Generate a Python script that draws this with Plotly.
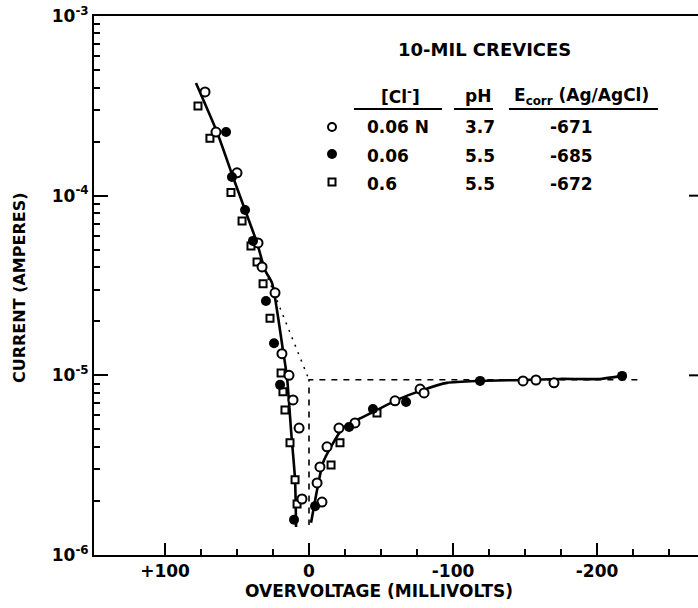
import plotly.graph_objects as go

# Overvoltage in millivolts (positive = cathodic, drawn on the left), current in amperes.
# Series 1: [Cl-] 0.06 N, pH 3.7 (open circles)
open_mv = [72.2, 64.6, 50.0, 35.4, 32.6, 23.6, 18.8, 13.9, 11.1, 6.9, 4.9,
           -5.6, -7.6, -9.0, -12.5, -20.8, -31.9, -59.7, -77.1, -79.9,
           -148.6, -157.6, -170.1]
open_amp = [3.78e-4, 2.26e-4, 1.34e-4, 5.46e-5, 4.01e-5, 2.88e-5, 1.32e-5, 1.00e-5,
            7.30e-6, 5.09e-6, 2.05e-6,
            2.52e-6, 3.09e-6, 1.97e-6, 4.00e-6, 5.09e-6, 5.43e-6, 7.21e-6, 8.39e-6,
            7.98e-6, 9.31e-6, 9.42e-6, 9.08e-6]

# Series 2: [Cl-] 0.06, pH 5.5 (filled circles)
filled_mv = [57.6, 53.5, 44.4, 38.9, 29.9, 24.3, 20.1, 10.4,
             -4.2, -27.8, -44.4, -67.4, -118.8, -217.4]
filled_amp = [2.26e-4, 1.27e-4, 8.32e-5, 5.60e-5, 2.59e-5, 1.51e-5, 8.85e-6, 1.57e-6,
              1.87e-6, 5.16e-6, 6.50e-6, 7.11e-6, 9.31e-6, 9.93e-6]

# Series 3: [Cl-] 0.6, pH 5.5 (open squares)
square_mv = [77.1, 68.8, 54.2, 46.5, 40.3, 36.1, 31.9, 27.1, 19.4, 18.1, 16.7,
             13.2, 9.7, 8.3, -15.3, -21.5, -47.2]
square_amp = [3.16e-4, 2.09e-4, 1.04e-4, 7.23e-5, 5.25e-5, 4.28e-5, 3.23e-5, 2.08e-5,
              1.03e-5, 8.09e-6, 6.41e-6, 4.21e-6, 2.62e-6, 1.92e-6,
              3.17e-6, 4.21e-6, 6.18e-6]

# Faired curves through the data
cath_curve_mv = [78.5, 63.9, 52.8, 44.4, 36.1, 30.6, 25.7, 21.5, 18.1, 15.3, 12.5, 9.7, 9.0]
cath_curve_amp = [4.24e-4, 2.26e-4, 1.27e-4, 8.32e-5, 5.46e-5, 3.86e-5, 3.27e-5, 2.11e-5,
                  1.38e-5, 9.8e-6, 4.97e-6, 2.62e-6, 1.43e-6]
anod_curve_mv = [-1.4, -5.6, -9.7, -16.0, -23.6, -33.3, -44.4, -61.1, -79.2, -95.8,
                 -118.8, -148.6, -174.3, -202.0, -217.4]
anod_curve_amp = [1.51e-6, 2.30e-6, 3.26e-6, 4.10e-6, 5.09e-6, 5.65e-6, 6.25e-6, 7.30e-6,
                  8.30e-6, 9.08e-6, 9.31e-6, 9.42e-6, 9.55e-6, 9.55e-6, 9.93e-6]

# Construction lines: Tafel extrapolation and corrosion current
tafel_ext_mv = [28.5, 0.0]
tafel_ext_amp = [3.48e-5, 9.45e-6]
icorr_mv = [-228.0, 0.0, 0.0]
icorr_amp = [9.45e-6, 9.45e-6, 1.47e-6]

# Axis ticks
x_major = [100, 0, -100, -200]
x_major_text = ["+100", "0", "-100", "-200"]
x_minor = [75, 50, 25, -25, -50, -75, -125, -150, -175, -225, -250]
y_major = [1e-6, 1e-5, 1e-4, 1e-3]
y_major_text = ["10<sup>-6</sup>", "10<sup>-5</sup>", "10<sup>-4</sup>", "10<sup>-3</sup>"]
y_minor = [m * d for d in (1e-6, 1e-5, 1e-4) for m in range(2, 10)]

# Legend table
table_cl = ["0.06 N", "0.06", "0.6"]
table_ph = ["3.7", "5.5", "5.5"]
table_ecorr = ["-671", "-685", "-672"]

FONT = "DejaVu Sans"
W, H = 698, 608
ML, MR, MT, MB = 94, 0, 16, 53


def px(xp):
    return (xp - ML) / (W - ML - MR)


def py(yp):
    return (H - MB - yp) / (H - MT - MB)


fig = go.Figure()

fig.add_trace(go.Scatter(x=tafel_ext_mv, y=tafel_ext_amp, mode="lines",
                         line=dict(color="black", width=1.5, dash="2px,6px")))
fig.add_trace(go.Scatter(x=icorr_mv, y=icorr_amp, mode="lines",
                         line=dict(color="black", width=1.6, dash="6px,6px")))
fig.add_trace(go.Scatter(x=cath_curve_mv, y=cath_curve_amp, mode="lines",
                         line=dict(color="black", width=2.6, shape="spline", smoothing=0.6)))
fig.add_trace(go.Scatter(x=anod_curve_mv, y=anod_curve_amp, mode="lines",
                         line=dict(color="black", width=2.6, shape="spline", smoothing=0.6)))

fig.add_trace(go.Scatter(x=square_mv, y=square_amp, mode="markers",
                         marker=dict(symbol="square", size=7, color="white",
                                     line=dict(color="black", width=2))))
fig.add_trace(go.Scatter(x=open_mv, y=open_amp, mode="markers",
                         marker=dict(symbol="circle", size=9, color="white",
                                     line=dict(color="black", width=2))))
fig.add_trace(go.Scatter(x=filled_mv, y=filled_amp, mode="markers",
                         marker=dict(symbol="circle", size=10, color="black",
                                     line=dict(color="black", width=0))))

# Legend symbols on an overlay axis spanning the plot area
leg_y = [py(127), py(154), py(182)]
fig.add_trace(go.Scatter(x=[px(332)], y=[leg_y[0]], mode="markers", xaxis="x2", yaxis="y2",
                         marker=dict(symbol="circle", size=8, color="white",
                                     line=dict(color="black", width=2))))
fig.add_trace(go.Scatter(x=[px(332)], y=[leg_y[1]], mode="markers", xaxis="x2", yaxis="y2",
                         marker=dict(symbol="circle", size=10, color="black")))
fig.add_trace(go.Scatter(x=[px(332)], y=[leg_y[2]], mode="markers", xaxis="x2", yaxis="y2",
                         marker=dict(symbol="square", size=7, color="white",
                                     line=dict(color="black", width=2))))

bold = dict(family=FONT, size=17, color="black", weight="bold")
annotations = []


def text(x, y, s, size=17, xanchor="center", angle=0):
    annotations.append(dict(x=x, y=y, xref="paper", yref="paper", text=s, showarrow=False,
                            xanchor=xanchor, yanchor="middle", textangle=angle,
                            font=dict(bold, size=size)))


text(px(484), py(50), "10-MIL CREVICES", size=18)
text(px(400), py(96), "[Cl<sup>-</sup>]", size=17)
text(px(478), py(96), "pH", size=17)
text(px(581), py(96), "E<sub>corr</sub> (Ag/AgCl)", size=17)
row_y = [py(127), py(156), py(184)]
for i in range(3):
    text(px(365), row_y[i], table_cl[i], xanchor="left")
    text(px(463), row_y[i], table_ph[i], xanchor="left")
    text(px(548), row_y[i], table_ecorr[i], xanchor="left")

text(px(379), py(591), "OVERVOLTAGE (MILLIVOLTS)", size=17)
text(px(19), py(288), "CURRENT (AMPERES)", size=16, angle=-90)

shapes = []
for x0, x1 in ((354, 442), (454, 493), (509, 658)):
    shapes.append(dict(type="line", xref="paper", yref="paper", x0=px(x0), x1=px(x1),
                       y0=py(109), y1=py(109), line=dict(color="black", width=2)))
for yv in (2 / 3, 1 / 3):
    shapes.append(dict(type="line", xref="paper", yref="paper", x0=px(689), x1=1.0,
                       y0=yv, y1=yv, line=dict(color="black", width=2)))

fig.update_layout(
    width=W, height=H,
    margin=dict(l=ML, r=MR, t=MT, b=MB, pad=0),
    paper_bgcolor="white", plot_bgcolor="white",
    showlegend=False,
    font=bold,
    annotations=annotations,
    shapes=shapes,
    xaxis=dict(range=[149.3, -270.1], showgrid=False, zeroline=False,
               showline=True, linecolor="black", linewidth=2, mirror=True,
               ticks="inside", ticklen=12, tickwidth=1.5, tickcolor="black",
               tickvals=x_major, ticktext=x_major_text,
               tickfont=dict(bold, size=17),
               minor=dict(tickvals=x_minor, ticks="inside", ticklen=6, tickwidth=1.5,
                          tickcolor="black", showgrid=False)),
    yaxis=dict(type="log", range=[-6, -3], showgrid=False, zeroline=False,
               showline=True, linecolor="black", linewidth=2,
               ticks="inside", ticklen=14, tickwidth=1.5, tickcolor="black",
               tickvals=y_major, ticktext=y_major_text,
               tickfont=dict(bold, size=17),
               minor=dict(tickvals=y_minor, ticks="inside", ticklen=6, tickwidth=1.5,
                          tickcolor="black", showgrid=False)),
    xaxis2=dict(overlaying="x", range=[0, 1], visible=False),
    yaxis2=dict(overlaying="y", range=[0, 1], visible=False),
)

fig.write_html("out.html")
